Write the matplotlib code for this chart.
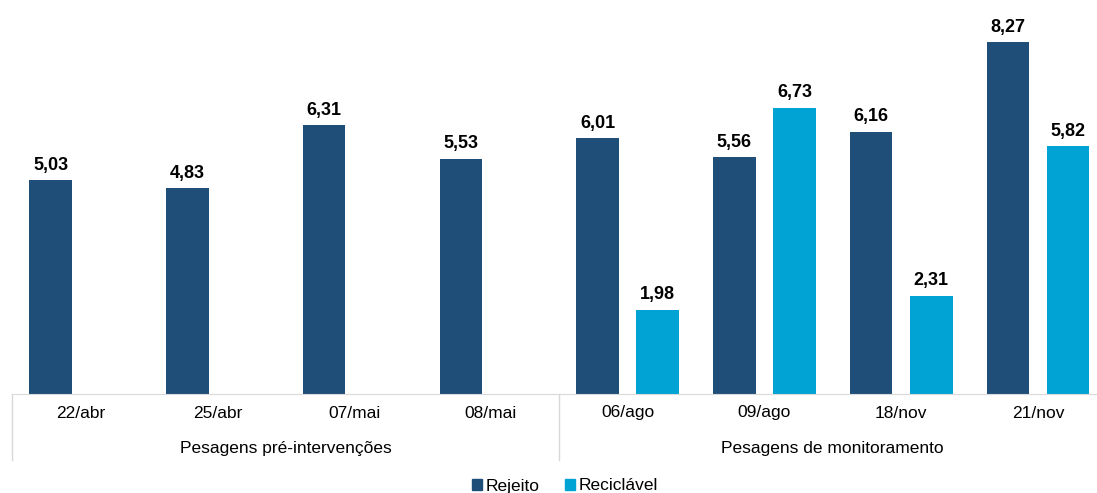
import numpy as np
import matplotlib
matplotlib.use('Agg')
import matplotlib.pyplot as plt
from matplotlib.patches import Patch

plt.rcParams['font.family'] = ['Liberation Sans', 'DejaVu Sans']

# dados
datas = ['22/abr', '25/abr', '07/mai', '08/mai', '06/ago', '09/ago', '18/nov', '21/nov']
rejeito = [5.03, 4.83, 6.31, 5.53, 6.01, 5.56, 6.16, 8.27]
reciclavel = [None, None, None, None, 1.98, 6.73, 2.31, 5.82]
grupos = ['Pesagens pré-intervenções', 'Pesagens de monitoramento']
grupo_tamanho = [4, 4]

cor_rej = '#1F4E79'
cor_rec = '#00A3D4'
cinza = '#D9D9D9'

fig = plt.figure(figsize=(10.97, 4.93), dpi=100)
ax = fig.add_axes([12.3 / 1097, 1 - 394 / 493, 1094 / 1097, 394 / 493])

x = np.arange(len(datas))
rec = np.array([np.nan if v is None else v for v in reciclavel])
w = 0.312
off = 0.22
ax.bar(x - off, rejeito, w, color=cor_rej)
ax.bar(x + off, rec, w, color=cor_rec)

def rotulo(xs, vals):
    for xi, v in zip(xs, vals):
        if v is None or np.isnan(v):
            continue
        ax.annotate(f'{v:.2f}'.replace('.', ','), (xi, v), xytext=(0, 7.5),
                    textcoords='offset points', ha='center', va='baseline',
                    fontsize=13, fontweight='bold')

rotulo(x - off, rejeito)
rotulo(x + off, rec)

ax.set_xlim(-0.5, len(datas) - 0.5)
ax.set_ylim(0, 394 / 42.56)
for s in ['top', 'right', 'left']:
    ax.spines[s].set_visible(False)
ax.spines['bottom'].set_color(cinza)
ax.set_yticks([])
ax.set_xticks([])

trans = ax.get_xaxis_transform()
for xi, d in zip(x, datas):
    ax.text(xi, -19 / 394, d, transform=trans, ha='center', va='center', fontsize=12.5)

inicio = 0
for g, n in zip(grupos, grupo_tamanho):
    ax.plot([inicio - 0.5, inicio - 0.5], [0, -66 / 394], transform=trans,
            color=cinza, lw=1, clip_on=False)
    ax.text(inicio - 0.5 + n / 2, -55 / 394, g, transform=trans,
            ha='center', va='center', fontsize=12.5)
    inicio += n

handles = [Patch(color=cor_rej, label='Rejeito'), Patch(color=cor_rec, label='Reciclável')]
fig.legend(handles=handles, loc='center', bbox_to_anchor=(565 / 1097, 1 - 486 / 493),
           ncol=2, frameon=False, fontsize=12.5, handlelength=0.55, handleheight=0.55,
           handletextpad=0.2, columnspacing=1.5)

fig.savefig('out.png', dpi=100)
